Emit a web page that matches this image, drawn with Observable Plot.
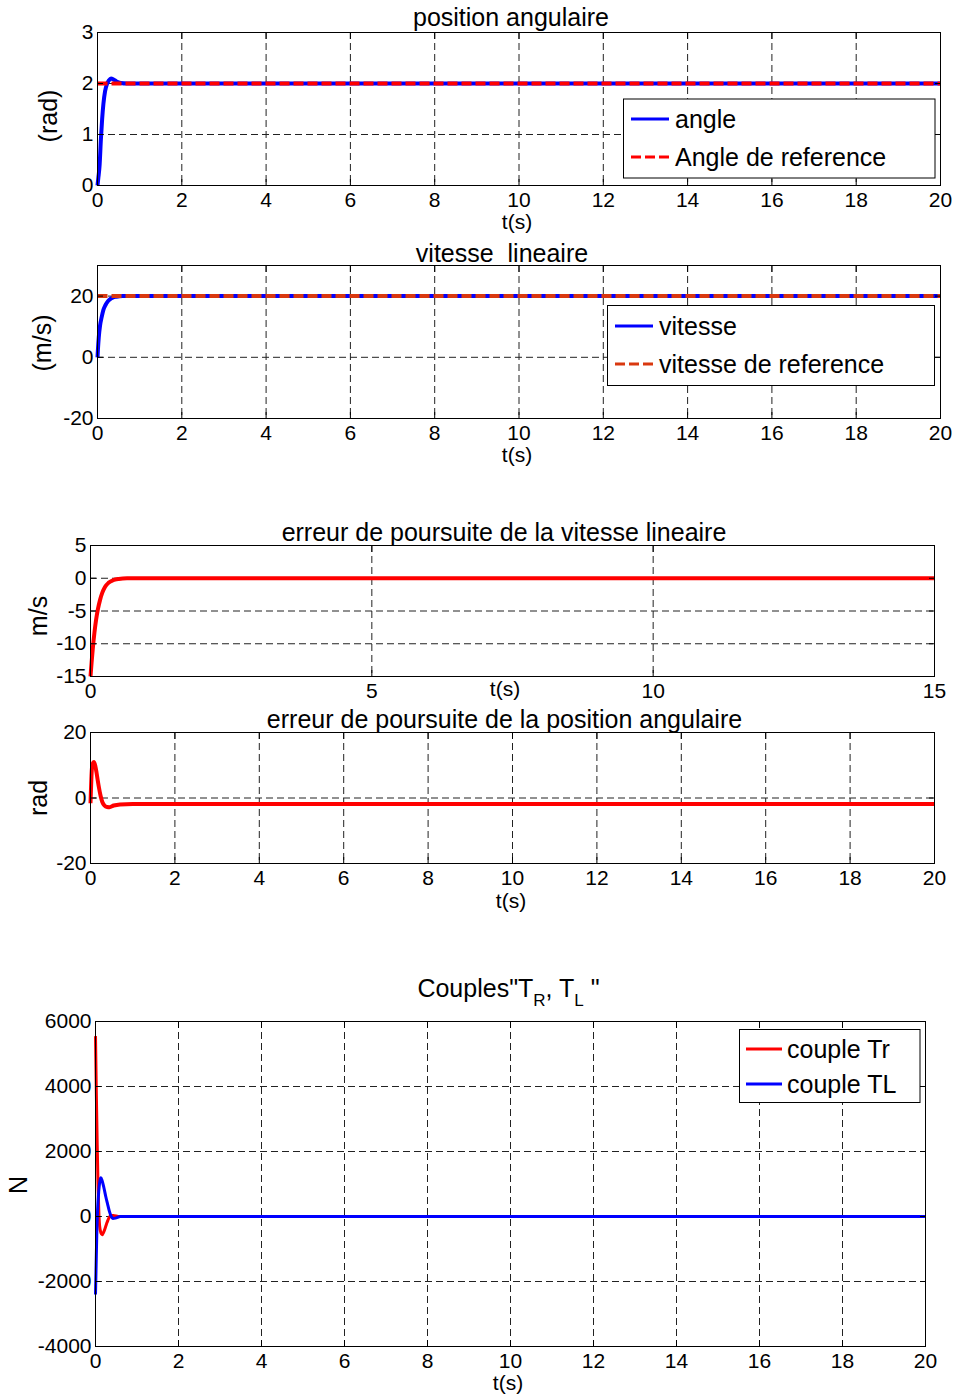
<!DOCTYPE html>
<html><head><meta charset="utf-8">
<script src="https://cdn.jsdelivr.net/npm/d3@7"></script>
<script src="https://cdn.jsdelivr.net/npm/@observablehq/plot@0.6"></script>
<style>
body{margin:0;background:#fff;}
#root{position:relative;width:954px;height:1394px;overflow:hidden;background:#fff;font-family:"Liberation Sans",Arial,sans-serif;}
#root svg{position:absolute;left:0;overflow:visible;}
#root svg text{white-space:pre;}
</style></head><body><div id="root"></div>
<script>
// ---------- data ----------
// Panel 1: position angulaire
const tAngle = [0,0.02,0.05,0.08,0.11,0.14,0.18,0.22,0.27,0.32,0.38,0.45,0.55,0.7,20];
const angle  = [0,0.15,0.4,0.9,1.3,1.6,1.85,1.98,2.06,2.1,2.08,2.04,2.01,2.0,2.0];
const tRef = [0,20];
const angleRef = [2,2];
// Panel 2: vitesse lineaire
const tVit = [0,0.01,0.03,0.06,0.1,0.14,0.19,0.24,0.3,0.36,0.45,0.6,20];
const vitesse = [0,2.5,6.5,10.3,13.2,15.5,17.1,18.2,19,19.5,19.8,20,20];
const vitesseRef = [20,20];
// Panel 3: erreur vitesse
const tErrV = [0,0.02,0.04,0.07,0.1,0.13,0.17,0.21,0.26,0.32,0.4,0.5,0.65,15];
const errVitesse = [-15,-12.8,-10.8,-8.3,-6.3,-4.8,-3.3,-2.2,-1.3,-0.7,-0.3,-0.1,0,0];
// Panel 4: erreur position angulaire
const tErrA = [0,0.015,0.03,0.05,0.08,0.11,0.14,0.17,0.2,0.24,0.28,0.33,0.39,0.45,0.55,0.7,1.0,20];
const errAngle = [-1.6,4,8.4,10.5,11,10,8,5.5,3.2,0.6,-1.2,-2.3,-2.75,-2.8,-2.3,-1.95,-1.8,-1.8];
// Panel 5: couples
const tTr = [0,0.02,0.04,0.06,0.08,0.1,0.13,0.16,0.2,0.24,0.28,0.32,0.37,0.43,0.55,20];
const coupleTr = [5550,3800,2300,1000,150,-300,-500,-560,-470,-330,-180,-50,30,30,0,0];
const tTL = [0,0.015,0.03,0.05,0.08,0.11,0.13,0.16,0.2,0.25,0.29,0.33,0.37,0.42,0.48,0.6,20];
const coupleTL = [-2400,-1500,-600,190,800,1120,1190,1100,900,600,390,180,30,-60,-50,0,0];
// tick values
const ticks0to20 = [0,2,4,6,8,10,12,14,16,18,20];
const ticks0to15 = [0,5,10,15];
const yTicks1 = [0,1,2,3];
const yTicks2 = [-20,0,20];
const yTicks3 = [-15,-10,-5,0,5];
const yTicks4 = [-20,0,20];
const yTicks5 = [-4000,-2000,0,2000,4000,6000];

// ---------- helpers ----------
const root = document.getElementById("root");
const FONT = '"Liberation Sans", Arial, sans-serif';
const gridStyle = {stroke:"#222", strokeOpacity:1, strokeWidth:1, strokeDasharray:"7,4"};
const fmt = d => String(d);

function panel(c) {
  const marks = [
    Plot.gridX(c.gridX, gridStyle),
    Plot.gridY(c.gridY, gridStyle),
    ...c.series.map(s => Plot.line(d3.zip(s.t, s.v), {
      x: d => d[0], y: d => d[1], stroke: s.color, strokeWidth: s.width,
      strokeDasharray: s.dash, curve: "monotone-x", strokeLinecap: "butt", strokeLinejoin: "round"
    })),
    Plot.frame({stroke:"#000", strokeWidth:1}),
    Plot.axisX(c.xTicks, {anchor:"bottom", tickSize:0, tickPadding:7, tickFormat: fmt, label:null}),
    Plot.axisX(c.xTicks, {anchor:"bottom", tickSize:-6, tickFormat: () => "", label:null}),
    Plot.axisX(c.xTicks, {anchor:"top", tickSize:-6, tickFormat: () => "", label:null}),
    Plot.axisY(c.yTicks, {anchor:"left", tickSize:0, tickPadding:4, tickFormat: fmt, label:null}),
    Plot.axisY(c.yTicks, {anchor:"left", tickSize:-6, tickFormat: () => "", label:null}),
    Plot.axisY(c.yTicks, {anchor:"right", tickSize:-6, tickFormat: () => "", label:null})
  ];
  const svg = Plot.plot({
    width: 954, height: c.height,
    marginLeft: c.ml, marginRight: c.mr, marginTop: c.mt, marginBottom: c.mb,
    x: {domain: c.xDomain, label: null},
    y: {domain: c.yDomain, label: null},
    style: {fontFamily: FONT, fontSize: "21px", color: "#000", background: "transparent", overflow: "visible"},
    marks
  });
  svg.style.top = c.top + "px";
  root.append(svg);
  const s = d3.select(svg);
  const T = c.top;
  if (c.title) {
    s.append("text").attr("x", c.title.x).attr("y", c.title.y - T)
      .attr("text-anchor", "middle").attr("font-size", 25).attr("font-family", FONT).attr("fill", "#000")
      .text(c.title.text);
  }
  if (c.xlabel) {
    s.append("text").attr("x", c.xlabel.x).attr("y", c.xlabel.y - T)
      .attr("text-anchor", "middle").attr("font-size", 21).attr("font-family", FONT).attr("fill", "#000")
      .text(c.xlabel.text);
  }
  if (c.ylabel) {
    s.append("text").attr("transform", `translate(${c.ylabel.x},${c.ylabel.y - T}) rotate(-90)`)
      .attr("text-anchor", "middle").attr("font-size", 25).attr("font-family", FONT).attr("fill", "#000")
      .text(c.ylabel.text);
  }
  if (c.legend) {
    const L = c.legend;
    s.append("rect").attr("x", L.x).attr("y", L.y - T).attr("width", L.w).attr("height", L.h)
      .attr("fill", "#fff").attr("stroke", "#000").attr("stroke-width", 1);
    L.items.forEach(it => {
      s.append("line").attr("x1", L.lx1).attr("x2", L.lx2).attr("y1", it.y - T).attr("y2", it.y - T)
        .attr("stroke", it.color).attr("stroke-width", 3).attr("stroke-dasharray", it.dash || null);
      s.append("text").attr("x", L.tx).attr("y", it.y + 9 - T).attr("font-size", 25)
        .attr("text-anchor", "start")
        .attr("font-family", FONT).attr("fill", "#000").text(it.label);
    });
  }
  return s;
}

// ---------- panel 1 ----------
panel({
  top: 0, height: 240, ml: 97, mr: 14, mt: 32, mb: 55,
  xDomain: [0,20], yDomain: [0,3], xTicks: ticks0to20, yTicks: yTicks1,
  gridX: ticks0to20, gridY: yTicks1,
  series: [
    {t: tAngle, v: angle, color: "#0000ff", width: 4},
    {t: tRef, v: angleRef, color: "#ff0000", width: 4, dash: "10,4"}
  ],
  title: {text: "position angulaire", x: 511, y: 26},
  xlabel: {text: "t(s)", x: 517, y: 228.5},
  ylabel: {text: "(rad)", x: 56.5, y: 116},
  legend: {x: 623.5, y: 99, w: 311.5, h: 79, lx1: 631, lx2: 669, tx: 675,
    items: [{label: "angle", color: "#0000ff", y: 119}, {label: "Angle de reference", color: "#ff0000", dash: "10,4", y: 157}]}
});

// ---------- panel 2 ----------
panel({
  top: 240, height: 235, ml: 97, mr: 14, mt: 25, mb: 57,
  xDomain: [0,20], yDomain: [-20,30], xTicks: ticks0to20, yTicks: yTicks2,
  gridX: ticks0to20, gridY: yTicks2,
  series: [
    {t: tVit, v: vitesse, color: "#0000ff", width: 4},
    {t: tRef, v: vitesseRef, color: "#d9380f", width: 4, dash: "10,4"}
  ],
  title: {text: "vitesse  lineaire", x: 502, y: 262},
  xlabel: {text: "t(s)", x: 517, y: 461.5},
  ylabel: {text: "(m/s)", x: 50.5, y: 343},
  legend: {x: 607.5, y: 305.5, w: 327, h: 80, lx1: 615, lx2: 653, tx: 659,
    items: [{label: "vitesse", color: "#0000ff", y: 326}, {label: "vitesse de reference", color: "#d9380f", dash: "10,4", y: 364}]}
});

// ---------- panel 3 ----------
panel({
  top: 475, height: 230, ml: 90, mr: 20, mt: 70, mb: 29,
  xDomain: [0,15], yDomain: [-15,5], xTicks: ticks0to15, yTicks: yTicks3,
  gridX: ticks0to15, gridY: yTicks3,
  series: [
    {t: tErrV, v: errVitesse, color: "#ff0000", width: 4}
  ],
  title: {text: "erreur de poursuite de la vitesse lineaire", x: 504, y: 541},
  xlabel: {text: "t(s)", x: 505, y: 695.5},
  ylabel: {text: "m/s", x: 47, y: 616}
});

// ---------- panel 4 ----------
panel({
  top: 705, height: 220, ml: 90, mr: 20, mt: 27, mb: 62,
  xDomain: [0,20], yDomain: [-20,20], xTicks: ticks0to20, yTicks: yTicks4,
  gridX: ticks0to20, gridY: yTicks4,
  series: [
    {t: tErrA, v: errAngle, color: "#ff0000", width: 4}
  ],
  title: {text: "erreur de poursuite de la position angulaire", x: 504.5, y: 728},
  xlabel: {text: "t(s)", x: 511, y: 908},
  ylabel: {text: "rad", x: 47, y: 798}
});

// ---------- panel 5 ----------
const s5 = panel({
  top: 925, height: 469, ml: 95, mr: 29, mt: 96, mb: 48,
  xDomain: [0,20], yDomain: [-4000,6000], xTicks: ticks0to20, yTicks: yTicks5,
  gridX: ticks0to20, gridY: yTicks5,
  series: [
    {t: tTr, v: coupleTr, color: "#ff0000", width: 3},
    {t: tTL, v: coupleTL, color: "#0000ff", width: 3}
  ],
  xlabel: {text: "t(s)", x: 508, y: 1390},
  ylabel: {text: "N", x: 27, y: 1185},
  legend: {x: 739.5, y: 1029.5, w: 180.5, h: 73, lx1: 746, lx2: 782, tx: 787,
    items: [{label: "couple Tr", color: "#ff0000", y: 1049}, {label: "couple TL", color: "#0000ff", y: 1084}]}
});
{
  const tt = s5.append("text").attr("x", 508.5).attr("y", 997 - 925).attr("text-anchor", "middle")
    .attr("font-size", 25).attr("font-family", FONT).attr("fill", "#000");
  tt.append("tspan").text('Couples"T');
  tt.append("tspan").attr("dy", 9).attr("font-size", 17).text("R");
  tt.append("tspan").attr("dy", -9).text(", T");
  tt.append("tspan").attr("dy", 9).attr("font-size", 17).text("L");
  tt.append("tspan").attr("dy", -9).text(' "');
}
</script></body></html>
